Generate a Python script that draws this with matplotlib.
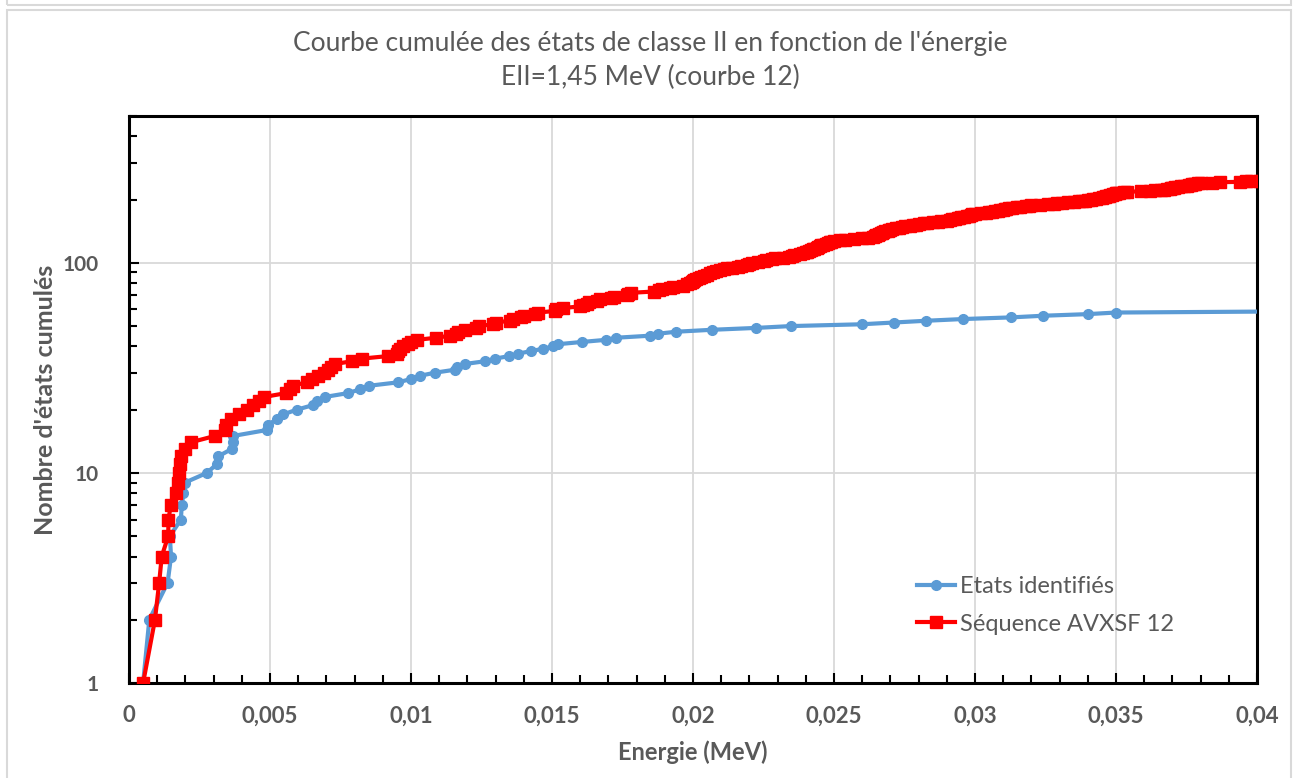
import numpy as np
import matplotlib
matplotlib.use('Agg')
import matplotlib.pyplot as plt
import matplotlib.ticker as mticker
from matplotlib.patches import Rectangle


# Energies (MeV) des etats identifies, dans l'ordre (courbe cumulee)
e_ident = [0.0005, 0.00072, 0.00137, 0.00149, 0.00145, 0.00184, 0.00187, 0.00193,
           0.00199, 0.00276, 0.00311, 0.00317, 0.00364, 0.0037, 0.0037, 0.00488,
           0.00494, 0.00524, 0.00547, 0.00595, 0.00651, 0.00666, 0.00695, 0.00778,
           0.00819, 0.00852, 0.00955, 0.01, 0.01032, 0.01085, 0.01156, 0.01162,
           0.01191, 0.01262, 0.01298, 0.01349, 0.0138, 0.01426, 0.01467, 0.01505,
           0.01522, 0.01605, 0.01691, 0.01727, 0.01848, 0.01877, 0.0194, 0.02066,
           0.02223, 0.02346, 0.02598, 0.02713, 0.02826, 0.02956, 0.03128, 0.03242,
           0.034, 0.03499, 0.0435]

# Energies (MeV) de la sequence AVXSF 12
e_seq = [0.0005, 0.00092, 0.00107, 0.00116, 0.00139, 0.0014, 0.00148, 0.00167,
         0.00172, 0.00176, 0.0018, 0.00186, 0.00197, 0.0022, 0.00305, 0.0034,
         0.00345, 0.0036, 0.0039, 0.0042, 0.0044, 0.0046, 0.0048, 0.00558,
         0.00572, 0.0058, 0.0063, 0.00648, 0.0067, 0.0069, 0.00705, 0.00718,
         0.0073, 0.0079, 0.00825, 0.0092, 0.0095, 0.00955, 0.0096, 0.0097,
         0.0099, 0.01, 0.0102, 0.0109, 0.01138, 0.0116, 0.01168, 0.0119,
         0.0123, 0.0124, 0.0129, 0.013, 0.0135, 0.0136, 0.0139, 0.014,
         0.0144, 0.0145, 0.0151, 0.01515, 0.0154, 0.016, 0.0161, 0.01625,
         0.0163, 0.0166, 0.0167, 0.0171, 0.0172, 0.01765, 0.0177, 0.0178,
         0.0186, 0.0188, 0.0189, 0.0192, 0.0193, 0.01965, 0.0198, 0.01988,
         0.01995, 0.02, 0.02005, 0.0201, 0.0202, 0.0203, 0.0204, 0.0205,
         0.0206, 0.0207, 0.0208, 0.02095, 0.0211, 0.0212, 0.0214, 0.0216,
         0.0217, 0.0219, 0.022, 0.0221, 0.0223, 0.0225, 0.0226, 0.0228,
         0.0229, 0.0232, 0.0234, 0.0235, 0.02358, 0.0238, 0.0239, 0.024,
         0.02405, 0.0241, 0.0242, 0.02425, 0.0243, 0.0244, 0.02445, 0.0245,
         0.02455, 0.0246, 0.0247, 0.0248, 0.02485, 0.0249, 0.025, 0.0252,
         0.0254, 0.0257, 0.026, 0.0262, 0.0264, 0.02645, 0.0265, 0.02655,
         0.0266, 0.02665, 0.0267, 0.02675, 0.0268, 0.0269, 0.02695, 0.027,
         0.02705, 0.0272, 0.0273, 0.0274, 0.0275, 0.0277, 0.0278, 0.0279,
         0.028, 0.0282, 0.0283, 0.0285, 0.0287, 0.0288, 0.029, 0.0291,
         0.0292, 0.0293, 0.0294, 0.02945, 0.0295, 0.0296, 0.0297, 0.0298,
         0.02985, 0.0299, 0.03, 0.0302, 0.0304, 0.0305, 0.0306, 0.0307,
         0.0308, 0.0309, 0.031, 0.03105, 0.0311, 0.0312, 0.0313, 0.0315,
         0.0316, 0.0318, 0.0319, 0.032, 0.0323, 0.0326, 0.0328, 0.0329,
         0.0331, 0.0333, 0.0335, 0.0337, 0.0338, 0.0339, 0.034, 0.0341,
         0.0342, 0.0343, 0.0344, 0.0345, 0.03455, 0.0346, 0.03465, 0.0347,
         0.03475, 0.0348, 0.03485, 0.0349, 0.03495, 0.035, 0.03505, 0.0351,
         0.0353, 0.0354, 0.0359, 0.0362, 0.0364, 0.0366, 0.0367, 0.0368,
         0.0369, 0.03695, 0.037, 0.03705, 0.0371, 0.0372, 0.0373, 0.0374,
         0.0375, 0.0376, 0.03765, 0.0377, 0.03775, 0.0378, 0.0379, 0.038,
         0.0384, 0.0387, 0.0394, 0.0396, 0.0398, 0.0401]

x_ticks = [0, 0.005, 0.01, 0.015, 0.02, 0.025, 0.03, 0.035, 0.04]
x_labels = ['0', '0,005', '0,01', '0,015', '0,02', '0,025', '0,03', '0,035', '0,04']
y_ticks = [1, 10, 100]
y_labels = ['1', '10', '100']

n_ident = np.arange(1, len(e_ident) + 1)
n_seq = np.arange(1, len(e_seq) + 1)

gris = '#595959'
plt.rcParams['font.family'] = ['Lato', 'DejaVu Sans']

fig = plt.figure(figsize=(13, 7.78), dpi=100)

# cadres du graphique (capture Excel)
fig.patches.append(Rectangle((7 / 1300, 1 - 5 / 778), 1284 / 1300, 0.02, transform=fig.transFigure,
                             fill=False, edgecolor='#D9D9D9', linewidth=1.5))
fig.patches.append(Rectangle((7 / 1300, -0.02), 1284 / 1300, 1 - 10 / 778 + 0.02, transform=fig.transFigure,
                             fill=False, edgecolor='#D9D9D9', linewidth=1.5))

ax = fig.add_axes([129 / 1300, 1 - 683 / 778, 1128 / 1300, 567 / 778])

ax.plot(e_ident, n_ident, color='#5B9BD5', linewidth=3, marker='o', markersize=7,
        label='Etats identifiés', zorder=3)
ax.plot(e_seq, n_seq, color='#FF0000', linewidth=3, marker='s', markersize=8,
        label='Séquence AVXSF 12', zorder=4)

ax.set_yscale('log')
ax.set_xlim(0, 0.04)
ax.set_ylim(1, 500)

ax.set_xticks(x_ticks)
ax.set_xticklabels(x_labels)
ax.xaxis.set_minor_locator(mticker.MultipleLocator(0.001))
ax.set_yticks(y_ticks)
ax.set_yticklabels(y_labels)
ax.yaxis.set_minor_locator(mticker.LogLocator(base=10, subs=np.arange(2, 10)))
ax.yaxis.set_minor_formatter(mticker.NullFormatter())

ax.grid(True, which='major', color='#D9D9D9', linewidth=1.3)
ax.set_axisbelow(True)

for sp in ax.spines.values():
    sp.set_linewidth(2.2)
    sp.set_color('black')

ax.tick_params(which='both', direction='in', width=1.5, color='black')
ax.tick_params(which='major', length=7)
ax.tick_params(which='minor', length=6)
ax.tick_params(axis='x', which='major', pad=16, labelsize=16, labelcolor=gris)
ax.tick_params(axis='y', which='major', pad=22, labelsize=15, labelcolor=gris)
for lab in ax.get_xticklabels() + ax.get_yticklabels():
    lab.set_fontweight('bold')

ax.set_xlabel('Energie (MeV)', fontsize=17, fontweight='bold', color=gris, labelpad=10)
ax.set_ylabel("Nombre d'états cumulés", fontsize=18, fontweight='bold', color=gris, labelpad=4)

fig.text(0.5, 1 - 44 / 778, "Courbe cumulée des états de classe II en fonction de l'énergie",
         ha='center', va='center', fontsize=19, color=gris)
fig.text(0.5, 1 - 77 / 778, 'EII=1,45 MeV (courbe 12)',
         ha='center', va='center', fontsize=19, color=gris)

leg = ax.legend(loc='lower right', bbox_to_anchor=(0.945, 0.048), frameon=False,
                fontsize=17, handlelength=1.6, handletextpad=0.2, labelspacing=0.7)
for t in leg.get_texts():
    t.set_color(gris)

fig.savefig('out.png', dpi=100)
